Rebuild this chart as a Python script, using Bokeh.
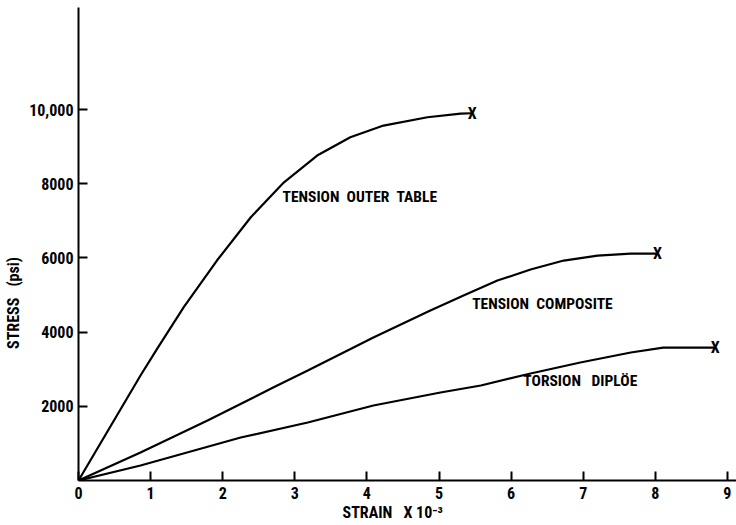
import math
from bokeh.plotting import figure
from bokeh.models import Range1d, FixedTicker, ColumnDataSource
from bokeh.core.properties import value
from bokeh.embed import file_html
from bokeh.resources import INLINE

FONT = "Roboto Condensed"
NB = "\u00a0"

# Data (strain x 10^-3, stress psi)
outer_strain = [0, 0.86, 1.09, 1.46, 1.92, 2.39, 2.85, 3.31, 3.77, 4.23, 4.84, 5.30, 5.46]
outer_stress = [0, 2830, 3549, 4671, 5929, 7097, 8039, 8759, 9252, 9567, 9791, 9890, 9900]

comp_strain = [0, 0.86, 1.79, 2.70, 3.18, 4.09, 4.88, 5.34, 5.81, 6.27, 6.73, 7.20, 7.66, 8.03]
comp_stress = [0, 755, 1617, 2506, 2965, 3854, 4582, 4986, 5390, 5686, 5929, 6064, 6118, 6118]

dip_strain = [0, 0.86, 2.25, 3.18, 4.09, 5.02, 5.58, 6.27, 6.96, 7.66, 8.11, 8.83]
dip_stress = [0, 404, 1159, 1563, 2021, 2372, 2560, 2884, 3180, 3450, 3584, 3584]

label_text = ["TENSION" + NB * 2 + "OUTER" + NB * 2 + "TABLE",
              "TENSION" + NB * 2 + "COMPOSITE",
              "TORSION" + NB * 3 + "DIPLÖE"]
label_x = [2.83, 5.46, 6.17]
label_y = [7654, 4750, 2670]

x_ticks = [0, 1, 2, 3, 4, 5, 6, 7, 8, 9]
y_ticks = [2000, 4000, 6000, 8000, 10000]
y_tick_labels = {10000: "10,000"}

y_title = "STRESS" + NB * 3 + "(psi)"
x_title = "STRAIN" + NB * 3 + "X 10\u207b\u00b3"

p = figure(width=736, height=525, output_backend="svg", toolbar_location=None,
           x_range=Range1d(0, 9.126), y_range=Range1d(0, 12750),
           min_border_left=78, min_border_right=0, min_border_top=7, min_border_bottom=45)
p.outline_line_color = None
p.xgrid.visible = False
p.ygrid.visible = False

for ax in (p.xaxis[0], p.yaxis[0]):
    ax.axis_line_width = 2
    ax.axis_line_color = "black"
    ax.major_tick_line_width = 2
    ax.major_tick_line_color = "black"
    ax.major_tick_out = 0
    ax.major_tick_in = 9
    ax.minor_tick_line_color = None
    ax.major_label_text_font = FONT
    ax.major_label_text_font_style = "bold"
    ax.major_label_text_font_size = "16px"
    ax.major_label_text_color = "black"
    ax.axis_label_text_font = FONT
    ax.axis_label_text_font_style = "bold"
    ax.axis_label_text_font_size = "16px"
    ax.axis_label_text_color = "black"

p.xaxis.ticker = FixedTicker(ticks=x_ticks)
p.yaxis.ticker = FixedTicker(ticks=y_ticks)
p.yaxis.major_label_overrides = y_tick_labels
p.xaxis.major_label_standoff = 6
p.yaxis.major_label_standoff = 5

# trailing no-break spaces shift the centred titles to where the reference has them
p.yaxis.axis_label = y_title + NB * 32
p.yaxis.axis_label_standoff = 3
p.xaxis.axis_label = x_title + NB * 8
p.xaxis.axis_label_standoff = 1

for xs, ys in ((outer_strain, outer_stress), (comp_strain, comp_stress), (dip_strain, dip_stress)):
    p.line(xs, ys, line_color="black", line_width=2.2)

end_src = ColumnDataSource(dict(x=[outer_strain[-1], comp_strain[-1], dip_strain[-1]],
                                y=[outer_stress[-1], comp_stress[-1], dip_stress[-1]],
                                t=["X", "X", "X"]))
p.text(x="x", y="y", text="t", source=end_src, text_font=value(FONT), text_font_style="bold",
       text_font_size="16px", text_align="center", text_baseline="middle", text_color="black")

lab_src = ColumnDataSource(dict(x=label_x, y=label_y, t=label_text))
p.text(x="x", y="y", text="t", source=lab_src, text_font=value(FONT), text_font_style="bold",
       text_font_size="15.5px", text_align="left", text_baseline="middle", text_color="black")

open("out.html", "w").write(file_html(p, INLINE))
